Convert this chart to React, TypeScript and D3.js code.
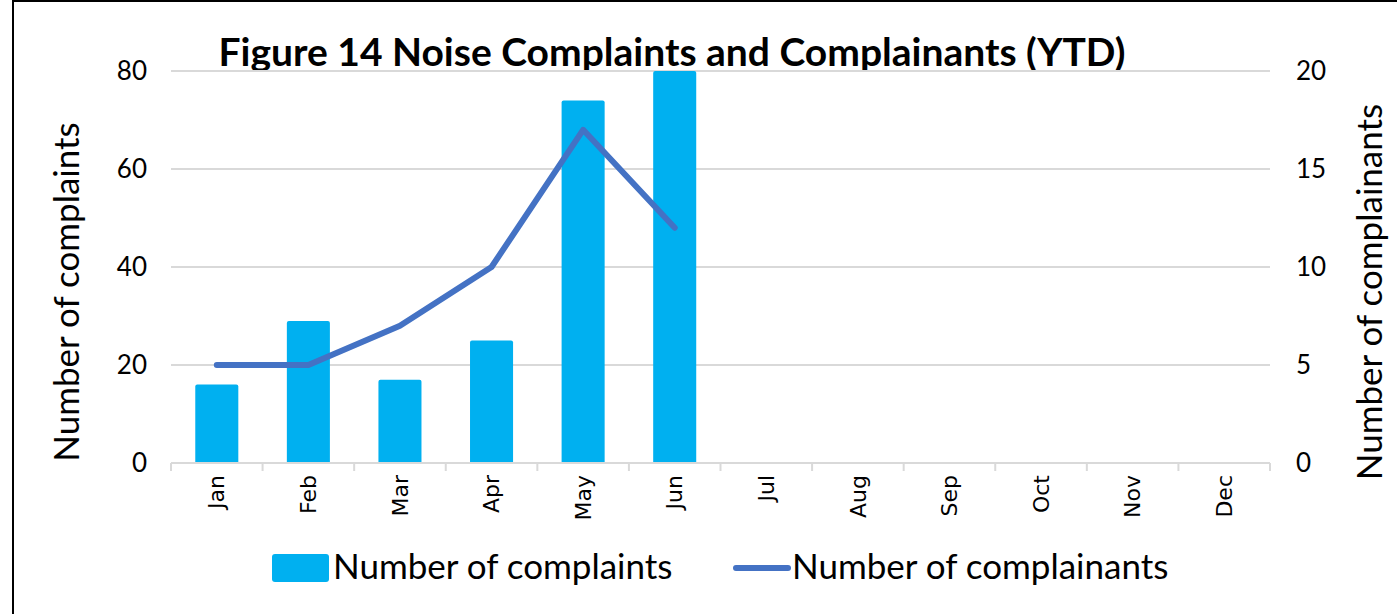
import React from "react";
import * as d3 from "d3";

const width = 1397;
const height = 614;
const margin = { top: 71, right: 127, bottom: 151, left: 171 };

const months = ["Jan", "Feb", "Mar", "Apr", "May", "Jun", "Jul", "Aug", "Sep", "Oct", "Nov", "Dec"];
const complaints = [16, 29, 17, 25, 74, 80];
const complainants = [5, 5, 7, 10, 17, 12];
const leftTicks = [0, 20, 40, 60, 80];
const rightTicks = [0, 5, 10, 15, 20];

const barColor = "#00B0F0";
const lineColor = "#4472C4";
const gridColor = "#D9D9D9";
const font = "Lato, 'Open Sans', sans-serif";

export default function App() {
  const innerW = width - margin.left - margin.right;
  const innerH = height - margin.top - margin.bottom;

  const x = d3.scaleBand().domain(months).range([0, innerW]).paddingInner(0.53).paddingOuter(0.265);
  const xc = (m: string) => (x(m) as number) + x.bandwidth() / 2;
  const yL = d3.scaleLinear().domain([0, 80]).range([innerH, 0]);
  const yR = d3.scaleLinear().domain([0, 20]).range([innerH, 0]);
  const step = innerW / months.length;

  const line = d3
    .line<number>()
    .x((_, i) => xc(months[i]))
    .y((d) => yR(d));

  return (
    <svg width={width} height={height} style={{ position: "absolute", left: 0, top: 0, background: "#fff" }}>
      <rect x={13} y={1} width={width} height={height + 10} fill="#fff" stroke="#000" strokeWidth={2} />
      <text x={672} y={66} textAnchor="middle" fontFamily={font} fontWeight="bold" fontSize={39} fill="#000">
        Figure 14 Noise Complaints and Complainants (YTD)
      </text>
      <g transform={`translate(${margin.left},${margin.top})`}>
        {leftTicks.map((t) => (
          <g key={t}>
            {t > 0 && <line x1={0} x2={innerW} y1={yL(t)} y2={yL(t)} stroke={gridColor} strokeWidth={2} />}
            <text x={-24} y={yL(t)} dy="0.35em" textAnchor="end" fontFamily={font} fontSize={26} fill="#000">
              {t}
            </text>
          </g>
        ))}
        {rightTicks.map((t) => (
          <text key={t} x={innerW + 26} y={yR(t)} dy="0.35em" textAnchor="start" fontFamily={font} fontSize={26} fill="#000">
            {t}
          </text>
        ))}
        <defs>
          <clipPath id="plot">
            <rect x={0} y={0} width={innerW} height={innerH} />
          </clipPath>
        </defs>
        <g clipPath="url(#plot)">
          {complaints.map((v, i) => (
            <rect
              key={months[i]}
              x={x(months[i])}
              y={yL(v)}
              width={x.bandwidth()}
              height={innerH - yL(v) + 4}
              rx={2}
              fill={barColor}
            />
          ))}
        </g>
        <line x1={0} x2={innerW} y1={innerH} y2={innerH} stroke={gridColor} strokeWidth={2} />
        {d3.range(months.length + 1).map((i) => (
          <line key={i} x1={i * step} x2={i * step} y1={innerH} y2={innerH + 8} stroke={gridColor} strokeWidth={2} />
        ))}
        <path d={line(complainants) || ""} fill="none" stroke={lineColor} strokeWidth={6} strokeLinecap="round" strokeLinejoin="round" />
        {months.map((m) => (
          <text
            key={m}
            transform={`translate(${xc(m)},${innerH + 12}) rotate(-90)`}
            dy="0.35em"
            textAnchor="end"
            fontFamily="'DejaVu Sans', sans-serif"
            fontSize={22}
            fill="#000"
          >
            {m}
          </text>
        ))}
      </g>
      <text transform={`translate(67,${margin.top + innerH / 2 + 25}) rotate(-90)`} dy="0.35em" textAnchor="middle" fontFamily={font} fontSize={35} fill="#000">
        Number of complaints
      </text>
      <text transform={`translate(1370,${margin.top + innerH / 2 + 25}) rotate(-90)`} dy="0.35em" textAnchor="middle" fontFamily={font} fontSize={35} fill="#000">
        Number of complainants
      </text>
      <rect x={272} y={554} width={57} height={28} rx={3} fill={barColor} />
      <text x={333} y={579} fontFamily={font} fontSize={35} fill="#000">
        Number of complaints
      </text>
      <line x1={736} x2={788} y1={568} y2={568} stroke={lineColor} strokeWidth={6} strokeLinecap="round" />
      <text x={792} y={579} fontFamily={font} fontSize={35} fill="#000">
        Number of complainants
      </text>
    </svg>
  );
}
